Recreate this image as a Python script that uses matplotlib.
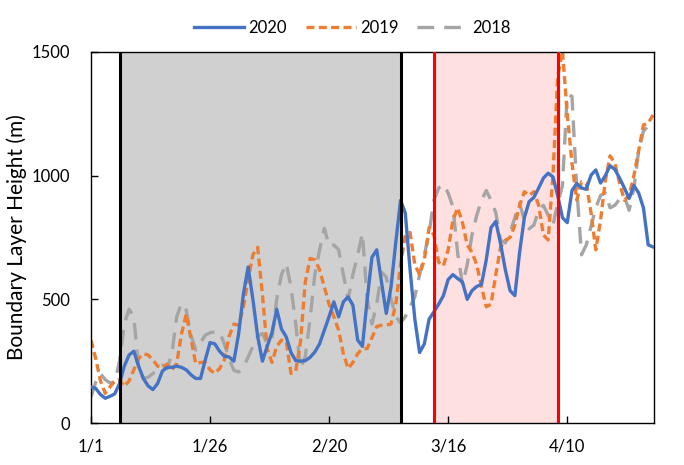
import matplotlib
matplotlib.use("Agg")
import matplotlib.pyplot as plt
import numpy as np

plt.rcParams['font.family'] = ['Lato', 'DejaVu Sans']

# Day index 0 = 1/1 (2020), daily values through 4/28
tick_days = [0, 25, 50, 75, 100]
tick_labels = ["1/1", "1/26", "2/20", "3/16", "4/10"]

blh_2020 = [146, 140, 115, 100, 108, 118, 160, 230, 275, 290, 230, 180, 150, 135, 160, 210, 225, 225, 230, 225,
            215, 195, 180, 180, 255, 325, 320, 290, 270, 267, 250, 360, 520, 631, 500, 350, 250, 310, 365, 460,
            380, 348, 285, 252, 250, 252, 265, 287, 320, 375, 430, 490, 429, 490, 510, 476, 335, 310, 500, 670,
            700, 570, 443, 550, 730, 900, 849, 620, 420, 285, 320, 420, 449, 480, 515, 580, 600, 584, 570, 500,
            535, 552, 560, 660, 790, 815, 725, 620, 535, 515, 690, 830, 895, 912, 950, 990, 1010, 995, 920, 830,
            810, 940, 968, 950, 945, 1002, 1023, 970, 1000, 1040, 1025, 990, 950, 908, 960, 930, 870, 720, 712]

blh_2019 = [335, 260, 170, 120, 146, 170, 175, 148, 170, 215, 260, 280, 275, 255, 230, 225, 238, 215, 240, 360,
            440, 340, 240, 245, 245, 215, 200, 220, 255, 350, 400, 395, 470, 580, 680, 710, 520, 300, 245, 310,
            335, 330, 200, 210, 330, 570, 665, 660, 620, 550, 480, 430, 375, 280, 220, 245, 280, 300, 301, 345,
            390, 395, 396, 400, 480, 640, 760, 770, 640, 600, 660, 790, 760, 650, 635, 700, 820, 870, 810, 720,
            690, 640, 550, 470, 480, 600, 710, 738, 750, 800, 880, 935, 920, 935, 880, 760, 740, 1000, 1400, 1505,
            1250, 1050, 901, 975, 969, 850, 700, 820, 980, 1080, 1050, 970, 900, 920, 1000, 1100, 1205, 1212, 1245]

blh_2018 = [105, 165, 200, 175, 162, 166, 250, 400, 460, 430, 220, 180, 185, 200, 215, 234, 220, 280, 430, 483,
            456, 355, 295, 325, 355, 365, 368, 368, 320, 260, 213, 206, 225, 267, 310, 350, 362, 320, 340, 500,
            600, 645, 550, 400, 220, 270, 420, 600, 700, 787, 715, 720, 700, 600, 500, 600, 680, 767, 500, 400,
            480, 610, 590, 500, 430, 405, 430, 470, 510, 600, 680, 767, 900, 950, 965, 930, 874, 686, 560, 640,
            760, 840, 900, 940, 900, 850, 739, 728, 770, 830, 888, 820, 785, 800, 860, 880, 840, 800, 888, 960,
            1330, 1320, 950, 680, 720, 795, 870, 920, 930, 870, 880, 905, 915, 860, 950, 1100, 1180, 1200, 1225]

series_names = ["2020", "2019", "2018"]
lockdown_start, lockdown_end = 6, 65
red_start, red_end = 72, 98

days = np.arange(len(blh_2020))

fig = plt.figure(figsize=(6.84, 4.65), dpi=100)
ax = fig.add_axes([0.133, 0.0903, 0.823, 0.798])

ax.axvspan(lockdown_start, lockdown_end, color="#D0D0D0", lw=0, zorder=0)
ax.axvspan(red_start, red_end, color="#FFE0E0", lw=0, zorder=0)

l1, = ax.plot(days, blh_2020, color="#4472C4", lw=2.4, label=series_names[0], zorder=3)
l2, = ax.plot(days, blh_2019, color="#ED7D31", lw=2.4, ls=(0, (2.4, 1.3)), label=series_names[1], zorder=2)
l3, = ax.plot(days, blh_2018, color="#A5A5A5", lw=2.4, ls=(0, (5.0, 3.0)), label=series_names[2], zorder=1)

ax.axvline(lockdown_start, color="black", lw=2.2, zorder=4)
ax.axvline(lockdown_end, color="black", lw=2.2, zorder=4)
ax.axvline(red_start, color="#FF0000", lw=2.2, zorder=4)
ax.axvline(red_end, color="#FF0000", lw=2.2, zorder=4)

ax.set_xlim(0, 118.2)
ax.set_ylim(0, 1500)
ax.set_xticks(tick_days)
ax.set_xticklabels(tick_labels)
ax.set_yticks([0, 500, 1000, 1500])
ax.tick_params(axis="both", direction="in", length=5, width=1, labelsize=12, colors="black")
ax.tick_params(axis="x", pad=11)
ax.tick_params(axis="y", pad=15)
for s in ax.spines.values():
    s.set_color("black")
    s.set_linewidth(1.0)

ax.set_ylabel("Boundary Layer Height (m)", fontsize=15, labelpad=3)

fig.legend(handles=[l1, l2, l3], loc="center", bbox_to_anchor=(0.515, 0.94), ncol=3, frameon=False,
           fontsize=12, handlelength=3.0, columnspacing=1.1, handletextpad=0.3)

fig.savefig("out.png", dpi=100)
